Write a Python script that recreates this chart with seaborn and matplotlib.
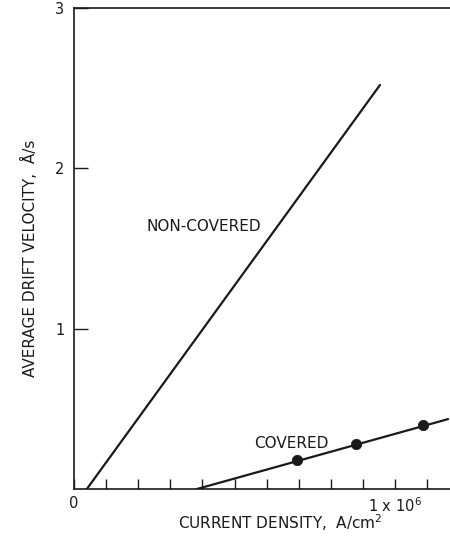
import matplotlib
matplotlib.use("Agg")
import matplotlib.pyplot as plt
import seaborn as sns
import pandas as pd

# Data
noncovered_x = [0.04e6, 0.953e6]
noncovered_y = [0.0, 2.52]
covered_line_x = [0.383e6, 1.165e6]
covered_line_y = [0.0, 0.436]
covered_pts_x = [0.695e6, 0.878e6, 1.087e6]
covered_pts_y = [0.18, 0.28, 0.40]
x_ticks = [i * 1e5 for i in range(12)]
x_ticklabels = ["0", "", "", "", "", "", "", "", "", "", "1 x 10$^6$", ""]
y_ticks = [1, 2, 3]
y_ticklabels = ["1", "2", "3"]

sns.set_style("white")
plt.rcParams['font.family'] = ['DejaVu Sans']

fig = plt.figure(figsize=(4.5, 5.41), dpi=100)
ax = fig.add_axes([74/450, 52/541, 376/450, 481/541])

ink = "#1a1a1a"
df_nc = pd.DataFrame({"x": noncovered_x, "y": noncovered_y})
df_cl = pd.DataFrame({"x": covered_line_x, "y": covered_line_y})
df_cp = pd.DataFrame({"x": covered_pts_x, "y": covered_pts_y})

sns.lineplot(data=df_nc, x="x", y="y", ax=ax, color=ink, lw=1.6)
sns.lineplot(data=df_cl, x="x", y="y", ax=ax, color=ink, lw=1.6)
sns.scatterplot(data=df_cp, x="x", y="y", ax=ax, color=ink, s=55, edgecolor=ink, zorder=5)

ax.set_xlim(0, 1.171e6)
ax.set_ylim(0, 3)

ax.set_xticks(x_ticks)
ax.set_xticklabels(x_ticklabels)
ax.set_yticks(y_ticks)
ax.set_yticklabels(y_ticklabels)
ax.tick_params(axis="x", bottom=True, direction="in", length=7, width=1, colors=ink, labelsize=10.5, pad=5)
ax.tick_params(axis="y", left=True, direction="in", length=10, width=1, colors=ink, labelsize=10.5, pad=7)

for s in ["left", "bottom", "top"]:
    ax.spines[s].set_visible(True)
    ax.spines[s].set_color(ink)
    ax.spines[s].set_linewidth(1.2)
ax.spines["right"].set_visible(False)

ax.set_xlabel("CURRENT DENSITY,  A/cm$^2$", fontsize=11, color=ink)
ax.xaxis.set_label_coords(0.548, -0.048)
ax.set_ylabel("AVERAGE DRIFT VELOCITY,  Å/s", fontsize=11, color=ink)
ax.yaxis.set_label_coords(-0.095, 0.48)

ax.text(0.225e6, 1.64, "NON-COVERED", fontsize=11, color=ink, ha="left", va="center")
ax.text(0.56e6, 0.285, "COVERED", fontsize=11, color=ink, ha="left", va="center")

fig.savefig("out.png", dpi=100)
